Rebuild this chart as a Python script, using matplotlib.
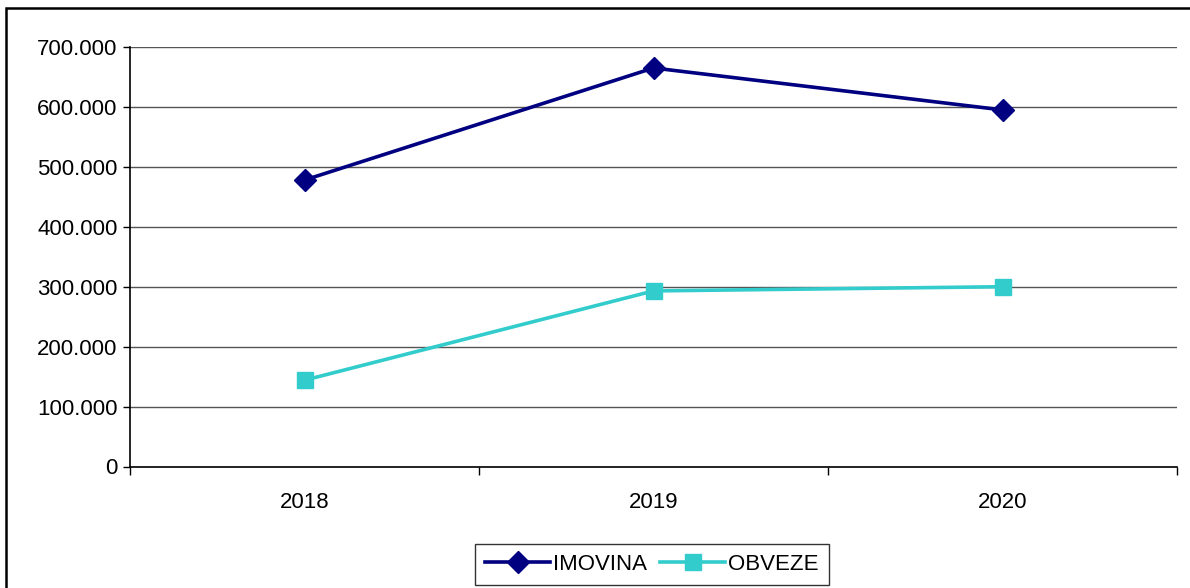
import matplotlib
matplotlib.use("Agg")
import matplotlib.pyplot as plt
from matplotlib.patches import Rectangle

years = ["2018", "2019", "2020"]
imovina = [478000, 665000, 595000]
obveze = [144000, 293000, 300000]
y_ticks = [0, 100000, 200000, 300000, 400000, 500000, 600000, 700000]

plt.rcParams["font.family"] = ["Liberation Sans", "DejaVu Sans"]

W, H = 1190, 588
fig = plt.figure(figsize=(W / 100, H / 100), dpi=100)
ax = fig.add_axes((130 / W, 1 - 466.5 / H, (1177 - 130) / W, (466.5 - 47) / H))

# outer chart border (only left and top visible in the picture)
fig.patches.append(Rectangle((6 / W, -0.1), 1.2, 1 - 8 / H + 0.1, transform=fig.transFigure,
                             fill=False, edgecolor="black", linewidth=1.8))

x = list(range(len(years)))
ax.plot(x, imovina, color="#000080", linewidth=2.6, marker="D", markersize=11, label="IMOVINA")
ax.plot(x, obveze, color="#33CCCC", linewidth=2.6, marker="s", markersize=12, label="OBVEZE")

ax.set_xlim(-0.5, 2.5)
ax.set_ylim(0, 700000)
ax.set_yticks(y_ticks)
ax.set_yticklabels(["0" if v == 0 else "{:,}".format(v).replace(",", ".") for v in y_ticks])
ax.set_xticks(x)
ax.set_xticklabels(years)
ax.set_xticks([-0.5, 0.5, 1.5, 2.5], minor=True)
ax.tick_params(axis="x", which="major", length=0, pad=18, labelsize=16)
ax.tick_params(axis="x", which="minor", length=6, width=1, direction="out")
ax.tick_params(axis="y", length=5, width=1, direction="out", pad=4, labelsize=16)

ax.grid(axis="y", color="#555555", linewidth=1)
ax.set_axisbelow(True)
for s in ["top", "right"]:
    ax.spines[s].set_visible(False)
ax.spines["left"].set_linewidth(1.2)
ax.spines["bottom"].set_linewidth(1.2)

leg = ax.legend(loc="center", bbox_to_anchor=(652 / W, 1 - 564 / H), bbox_transform=fig.transFigure,
                ncol=2, fontsize=16, frameon=True, fancybox=False, handlelength=2.9,
                columnspacing=0.6, handletextpad=0.15, borderpad=0.45, borderaxespad=0)
leg.get_frame().set_edgecolor("black")
leg.get_frame().set_linewidth(1)

fig.savefig("out.png", dpi=100)
